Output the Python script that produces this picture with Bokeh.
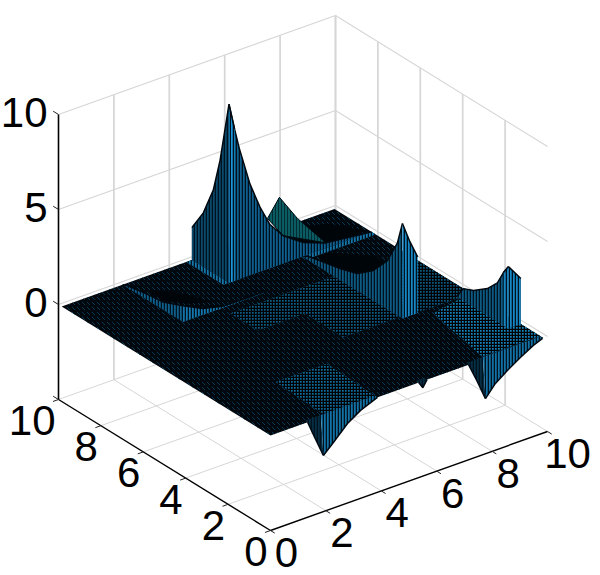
from bokeh.plotting import figure
from bokeh.models import Range1d
from bokeh.embed import file_html
from bokeh.resources import INLINE
from bokeh.core.properties import value

# ---------- axis data ----------
x_ticks = [0, 2, 4, 6, 8, 10]
y_ticks = [0, 2, 4, 6, 8, 10]
z_ticks = [0, 5, 10]
z_floor = -5
edge = 9.85   # last mesh coordinate of the surface

# ---------- surface: walls (position along the edge, height) ----------
w1x_pos = [4.7, 4.9, 5.07, 5.46, 5.82, 6.18, 6.66, 7.38, 8.2, 9.85]
w1x_h   = [9.4, 8.0, 6.9, 4.8, 3.4, 2.3, 1.46, 0.73, 0.28, 0.0]
w1y_pos = [8.1, 8.52, 8.84, 9.31, 9.78, 9.85]
w1y_h   = [9.4, 6.16, 4.37, 2.85, 1.85, 1.7]
peak2_x = [7.43, 7.86, 8.51, 8.2, 6.66]
peak2_y = [9.85, 9.85, 9.85, 8.1, 8.1]
peak2_z = [0.76, 1.65, 0.2, 0.28, 1.46]

w3x_pos = [3.38, 3.62, 4.09, 4.75, 5.5, 6.3, 7.25, 7.86, 8.1]
w3x_h   = [5.0, 3.8, 2.56, 1.58, 0.9, 0.6, 0.37, 0.2, 0.0]
w3y_pos = [7.35, 7.62, 7.9]
w3y_h   = [5.0, 3.9, 2.95]

w4x_pos = [1.06, 1.3, 1.58, 2.05, 2.71, 3.18, 3.5]
w4x_h   = [3.26, 2.77, 2.05, 1.42, 0.86, 0.64, 0.0]
w4y_pos = [9.4, 9.85]
w4y_h   = [3.26, 2.4]

wAx_pos = [7.0, 7.94, 8.7, 9.64, 9.85]
wAx_h   = [0.85, 0.4, 0.3, 0.1, 0.0]
wAy_pos = [2.2, 2.9, 3.65, 5.1]
wAy_h   = [0.85, 0.35, 0.08, 0.05]

s1l_pos = [1.34, 1.6, 1.91]
s1l_h   = [0.0, -0.95, -2.05]
s1r_pos = [1.91, 2.27, 2.78, 3.25, 3.86]
s1r_h   = [-2.05, -1.55, -0.82, -0.37, 0.0]
s2l_pos = [7.15, 7.45, 7.76]
s2l_h   = [0.0, -1.0, -2.1]
s2r_pos = [7.76, 8.12, 8.56, 9.03, 9.49, 9.82]
s2r_h   = [-2.1, -1.49, -1.03, -0.59, -0.2, 0.0]
s3_pos = [5.35, 5.5, 5.65]
s3_h   = [0.0, -0.35, 0.0]

# flat patches of the z=0 sheet (x, y corners)
mid1_x = [3.6, 7.35, 7.35, 5.3, 5.3, 3.6]
mid1_y = [6.6, 6.6, 3.5, 3.5, 5.3, 5.3]
mid2_x = [2.1, 3.95, 3.86, 2.0]
mid2_y = [2.5, 2.5, 0.1, 0.1]
mid3_x = [7.76, 8.24, 9.41, 9.41, 9.85, 9.85]
mid3_y = [0.15, 3.08, 3.34, 1.06, 1.06, 0.15]
mid4_x = [7.9, 9.85, 9.85, 7.9]
mid4_y = [3.4, 3.4, 6.0, 6.0]
band1_x = [7.35, 9.85, 9.85, 7.35]
band1_y = [7.9, 7.9, 8.1, 8.1]
band2_x = [4.5, 4.7, 4.7, 4.5]
band2_y = [8.1, 8.1, 9.85, 9.85]

# black hollows
h1_x = [8.16, 9.15, 9.8, 8.45, 7.5]
h1_y = [9.71, 9.27, 8.24, 8.2, 8.6]
h3_x = [7.7, 8.14, 9.06, 8.99, 8.0, 7.6]
h3_y = [8.0, 7.81, 6.89, 6.4, 6.0, 7.0]
hA_x = [2.55, 3.23, 3.62, 2.94, 2.55]
hA_y = [9.14, 8.47, 7.42, 7.85, 8.38]

# ---------- projection of the MATLAB 3-D view (page pixels) ----------
def px(x, y):
    return 270 + 27.7 * x - 21.2 * y

def py(x, y, z):
    return 530 - 9.9 * x - 13.1 * y - 19.0 * (z - z_floor)

def P(xs, ys, zs):
    return [px(a, b) for a, b in zip(xs, ys)], [py(a, b, c) for a, b, c in zip(xs, ys, zs)]

p = figure(width=600, height=575, x_range=Range1d(0, 600), y_range=Range1d(575, 0),
           output_backend="svg", toolbar_location=None, min_border=0,
           outline_line_color=None, background_fill_color="white")
p.axis.visible = False
p.grid.visible = False

GRID = "#d6d6d6"

def lines(starts, ends, color=GRID, width=1.0):
    xa, ya = P(*starts)
    xb, yb = P(*ends)
    p.multi_line([[u, v] for u, v in zip(xa, xb)], [[u, v] for u, v in zip(ya, yb)],
                 line_color=color, line_width=width)

# floor grid
for t in x_ticks[1:]:
    lines(([t], [0], [z_floor]), ([t], [10], [z_floor]), width=1.0)
for t in y_ticks[1:]:
    lines(([0], [t], [z_floor]), ([10], [t], [z_floor]), width=1.0)
# back walls
for t in x_ticks[1:]:
    lines(([t], [10], [z_floor]), ([t], [10], [10]), width=1.7)
for t in y_ticks[1:]:
    lines(([10], [t], [z_floor]), ([10], [t], [10]), width=1.7)
for z in z_ticks:
    lines(([0], [10], [z]), ([10], [10], [z]), width=1.1)
    lines(([10], [10], [z]), ([10], [0], [z]), width=1.1)

HATCH_MESH = dict(hatch_pattern="cross", hatch_color="#000000", hatch_scale=3, hatch_weight=1.6)

def flat(xs, ys, fill, hatch=HATCH_MESH, z=0.0):
    qx, qy = P(xs, ys, [z] * len(xs))
    p.patch(qx, qy, fill_color=fill, line_color=None, **hatch)

def black(xs, ys, z=0.0):
    qx, qy = P(xs, ys, [z] * len(xs))
    p.patch(qx, qy, fill_color="#00050a", line_color=None)

STRIPE = dict(hatch_pattern="vertical_line", hatch_color="#01121e", hatch_scale=3, hatch_weight=1.6)

def wall(points_base, points_top, fill, stripe=STRIPE, outline="#00080f"):
    bx, by = P(*points_base)
    tx, ty = P(*points_top)
    px_all = bx + tx[::-1]
    py_all = by + ty[::-1]
    p.patch(px_all, py_all, fill_color=fill, line_color=None, **stripe)
    p.line(tx, ty, line_color=outline, line_width=1.5)

def xface(x, pos, h, fill, bright=None):
    k = len(pos)
    wall(([x] * k, pos, [0] * k), ([x] * k, pos, h), fill)
    if bright:
        wall(([x] * 2, pos[:2], [0] * 2), ([x] * 2, pos[:2], h[:2]), bright)

def yface(y, pos, h, fill, bright=None):
    k = len(pos)
    wall((pos, [y] * k, [0] * k), (pos, [y] * k, h), fill)
    if bright:
        wall((pos[:2], [y] * 2, [0] * 2), (pos[:2], [y] * 2, h[:2]), bright)

# sheet
flat([0, edge, edge, 0], [0, 0, edge, edge], "#00070d",
     dict(hatch_pattern="left_diagonal_dash", hatch_color="#063a56", hatch_scale=5, hatch_weight=1.0))

flat(mid4_x, mid4_y, "#0c5a84")
flat(mid1_x, mid1_y, "#0d5f8a")
flat(mid2_x, mid2_y, "#0f6c9e")
flat(mid3_x, mid3_y, "#1585c0")

black(h1_x, h1_y)
black(h3_x, h3_y)
black(hA_x, hA_y)
flat(band1_x, band1_y, "#1577aa", STRIPE)
flat(band2_x, band2_y, "#1577aa", STRIPE)

# back of the big wall: second peak
qx, qy = P(peak2_x, peak2_y, peak2_z)
p.patch(qx, qy, fill_color="#0b5c62", line_color="#00080f", line_width=1,
        hatch_pattern="vertical_line", hatch_color="#042a32", hatch_scale=3, hatch_weight=1.0)

# far to near
xface(2.2, wAx_pos, wAx_h, "#0f618d")
yface(7.0, wAy_pos, wAy_h, "#1478ae")
xface(9.4, w4x_pos, w4x_h, "#0d5a82", "#1787c4")
yface(1.06, w4y_pos, w4y_h, "#1688c6")
xface(7.35, w3x_pos, w3x_h, "#0d5a82")
yface(3.38, w3y_pos, w3y_h, "#1688c6")
xface(4.7, w1y_pos, w1y_h, "#0a4a6c")
yface(8.1, w1x_pos, w1x_h, "#0e6090", "#1a97dc")
for pos, h, fill in ((s1l_pos, s1l_h, "#062e44"), (s1r_pos, s1r_h, "#1272a6"),
                     (s2l_pos, s2l_h, "#062e44"), (s2r_pos, s2r_h, "#1272a6"),
                     (s3_pos, s3_h, "#062e44")):
    k = len(pos)
    wall((pos, [0.12] * k, [0] * k), (pos, [0.0] * k, h), fill)

# axes
lines(([0], [10], [z_floor]), ([0], [10], [10]), color="#000000", width=1.6)
lines(([0], [0], [z_floor]), ([0], [10], [z_floor]), color="#000000", width=1.4)
lines(([0], [0], [z_floor]), ([10], [0], [z_floor]), color="#000000", width=1.4)
for t in x_ticks:
    lines(([t], [0], [z_floor]), ([t], [-0.2], [z_floor]), color="#222222", width=1.0)
for t in y_ticks:
    lines(([0], [t], [z_floor]), ([-0.2], [t], [z_floor]), color="#222222", width=1.0)
for z in z_ticks + [z_floor]:
    lines(([0], [10], [z]), ([0], [10.25], [z]), color="#222222", width=1.0)

# tick labels
FONT = value("Liberation Sans")
def label(xs, ys, txt, align):
    p.text(xs, ys, text=txt, text_font=FONT, text_font_size="42px", text_color="#000000",
           text_align=align, text_baseline="middle")

label([px(0, 10) - 11] * len(z_ticks), [py(0, 10, z) - 2 for z in z_ticks], [str(z) for z in z_ticks], "right")
label([px(0, t) - 3 for t in y_ticks], [py(0, t, z_floor) + 21 for t in y_ticks], [str(t) for t in y_ticks], "right")
label([px(t, 0) + 16 + 4 * (len(str(t)) - 1) for t in x_ticks], [py(t, 0, z_floor) + 22 for t in x_ticks],
      [str(t) for t in x_ticks], "center")

open("out.html", "w").write(file_html(p, INLINE))
